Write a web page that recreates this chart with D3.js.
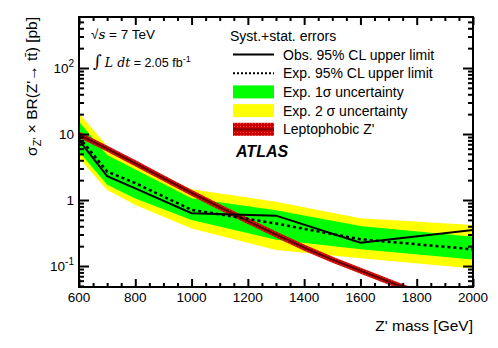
<!DOCTYPE html>
<html>
<head>
<meta charset="utf-8">
<script src="https://cdn.jsdelivr.net/npm/d3@7"></script>
<style>
  body { margin: 0; background: #fff; }
  text { font-family: "Liberation Sans", Arial, sans-serif; }
</style>
</head>
<body>
<div id="chart"></div>
<script>
// mass points of the limit
const masses = [600, 700, 800, 1000, 1300, 1600, 2000];
const observed = [8.1, 2.3, 1.5, 0.63, 0.58, 0.225, 0.35];
const expected = [9.0, 2.7, 1.8, 0.71, 0.44, 0.254, 0.179];
const exp1Up = [15.3, 4.8, 2.9, 1.06, 0.70, 0.404, 0.278];
const exp1Down = [5.4, 1.7, 1.05, 0.50, 0.25, 0.179, 0.126];
const exp2Up = [20.6, 6.6, 3.6, 1.45, 0.94, 0.527, 0.42];
const exp2Down = [4.3, 1.42, 0.84, 0.37, 0.175, 0.131, 0.092];

// leptophobic Z' cross section
const zpMass = [600, 700, 800, 900, 1000, 1100, 1200, 1300, 1400, 1500, 1600, 1700, 1800];
const zpXsec = [9.8, 6.0, 3.6, 2.15, 1.28, 0.78, 0.48, 0.30, 0.19, 0.125, 0.085, 0.058, 0.04];

const xMajor = [600, 800, 1000, 1200, 1400, 1600, 1800, 2000];
const yMajor = [0.1, 1, 10, 100];
const yLabels = [["10", "-1"], ["1", ""], ["10", ""], ["10", "2"]];

const W = 498, H = 348;
const pLeft = 79, pRight = 473, pTop = 17, pBottom = 287;

const svg = d3.select("#chart").append("svg")
  .attr("width", W).attr("height", H);

const x = d3.scaleLinear().domain([600, 2000]).range([pLeft, pRight]);
const y = d3.scaleLog().domain([Math.pow(10, -1.318), Math.pow(10, 2.773)]).range([pBottom, pTop]);

const defs = svg.append("defs");
defs.append("clipPath").attr("id", "clip")
  .append("rect").attr("x", pLeft).attr("y", pTop)
  .attr("width", pRight - pLeft).attr("height", pBottom - pTop);

const pat = defs.append("pattern")
  .attr("id", "hatch").attr("patternUnits", "userSpaceOnUse")
  .attr("width", 3).attr("height", 3);
pat.append("rect").attr("width", 3).attr("height", 3).attr("fill", "#cc0000");
pat.append("rect").attr("width", 1).attr("height", 1).attr("fill", "#ee5050");

const plot = svg.append("g").attr("clip-path", "url(#clip)");

const band = (up, down) => d3.area()
  .x((d, i) => x(masses[i]))
  .y0((d, i) => y(down[i]))
  .y1((d, i) => y(up[i]));

plot.append("path").datum(masses)
  .attr("d", band(exp2Up, exp2Down)).attr("fill", "#ffff00");
plot.append("path").datum(masses)
  .attr("d", band(exp1Up, exp1Down)).attr("fill", "#00ff00");

const line = vals => d3.line()
  .x((d, i) => x(masses[i]))
  .y((d, i) => y(vals[i]));

// leptophobic Z'
const zpLine = d3.line()
  .x((d, i) => x(zpMass[i]))
  .y((d, i) => y(zpXsec[i]));
plot.append("path").datum(zpMass).attr("d", zpLine)
  .attr("fill", "none").attr("stroke", "#cc0000").attr("stroke-width", 5.5);
plot.append("path").datum(zpMass).attr("d", zpLine)
  .attr("fill", "none").attr("stroke", "#ee5050").attr("stroke-width", 5.5)
  .attr("stroke-dasharray", "1,2").attr("opacity", 0.5);
plot.append("path").datum(zpMass).attr("d", zpLine)
  .attr("fill", "none").attr("stroke", "#5a0000").attr("stroke-width", 2);

plot.append("path").datum(masses).attr("d", line(expected))
  .attr("fill", "none").attr("stroke", "#000").attr("stroke-width", 2.5)
  .attr("stroke-dasharray", "3,3");
plot.append("path").datum(masses).attr("d", line(observed))
  .attr("fill", "none").attr("stroke", "#000").attr("stroke-width", 2);

// axes: ticks on all four sides, pointing inward
const xMinor = d3.range(600, 2001, 50).filter(v => v % 200 != 0);
const yMinor = [];
[0.01, 0.1, 1, 10, 100].forEach(dec => {
  for (let k = 2; k <= 9; k++) {
    const v = dec * k;
    if (v >= y.domain()[0] && v <= y.domain()[1]) yMinor.push(v);
  }
});

function drawAxis(axis, pos, values, size) {
  svg.append("g").attr("transform", pos)
    .call(axis.tickValues(values).tickSize(size).tickFormat(""))
    .call(g => g.select(".domain").remove())
    .call(g => g.selectAll("line").attr("stroke-width", 2));
}
drawAxis(d3.axisBottom(x), `translate(0,${pBottom})`, xMajor, -8);
drawAxis(d3.axisBottom(x), `translate(0,${pBottom})`, xMinor, -4);
drawAxis(d3.axisTop(x), `translate(0,${pTop})`, xMajor, -8);
drawAxis(d3.axisTop(x), `translate(0,${pTop})`, xMinor, -4);
drawAxis(d3.axisLeft(y), `translate(${pLeft},0)`, yMajor, -10);
drawAxis(d3.axisLeft(y), `translate(${pLeft},0)`, yMinor, -5);
drawAxis(d3.axisRight(y), `translate(${pRight},0)`, yMajor, -10);
drawAxis(d3.axisRight(y), `translate(${pRight},0)`, yMinor, -5);

svg.append("rect").attr("x", pLeft).attr("y", pTop)
  .attr("width", pRight - pLeft).attr("height", pBottom - pTop)
  .attr("fill", "none").attr("stroke", "#000").attr("stroke-width", 2);

// tick labels
svg.append("g").selectAll("text").data(xMajor).join("text")
  .attr("x", d => x(d)).attr("y", 302)
  .attr("text-anchor", "middle").attr("font-size", 13.5)
  .text(d => d);

const yl = svg.append("g").selectAll("text").data(yMajor).join("text")
  .attr("x", 74).attr("y", d => y(d) + 5)
  .attr("text-anchor", "end").attr("font-size", 13.5);
yl.append("tspan").text((d, i) => yLabels[i][0]);
yl.append("tspan").attr("dy", -6).attr("font-size", 10)
  .text((d, i) => yLabels[i][1]);

// axis titles
svg.append("text").attr("x", pRight).attr("y", 331)
  .attr("text-anchor", "end").attr("font-size", 15.5)
  .text("Z' mass [GeV]");

const yt = svg.append("text")
  .attr("transform", `translate(37,${pTop}) rotate(-90)`)
  .attr("text-anchor", "end").attr("font-size", 15.5);
yt.append("tspan").text("σ");
yt.append("tspan").attr("font-size", 11).attr("dy", 4).text("Z'");
yt.append("tspan").attr("dy", -4).text(" × BR(Z'→ tt\u0304) [pb]");

// top left labels
const sq = svg.append("text").attr("x", 91).attr("y", 39).attr("font-size", 13.5);
sq.append("tspan").text("√");
sq.append("tspan").attr("font-family", "DejaVu Serif").attr("font-style", "italic")
  .text("s");
sq.append("tspan").text(" = 7 TeV");

const lum = svg.append("text").attr("x", 93).attr("y", 67).attr("font-size", 12.5);
lum.append("tspan").attr("font-family", "DejaVu Serif").attr("font-size", 17).text("∫");
lum.append("tspan").attr("font-family", "DejaVu Serif").attr("font-style", "italic")
  .attr("dx", 3).text("L dt");
lum.append("tspan").text(" = 2.05 fb");
lum.append("tspan").attr("dy", -5).attr("font-size", 9).text("-1");

// legend
const legendNames = ["Obs. 95% CL upper limit", "Exp. 95% CL upper limit",
  "Exp. 1σ uncertainty", "Exp. 2 σ uncertainty", "Leptophobic Z'"];
svg.append("text").attr("x", 230).attr("y", 41).attr("font-size", 14)
  .text("Syst.+stat. errors");

const lg = svg.append("g");
legendNames.forEach((name, i) => {
  const cy = 54.5 + i * 18.7;
  const x0 = 233, x1 = 274;
  if (i == 0) {
    lg.append("line").attr("x1", x0).attr("x2", x1).attr("y1", cy).attr("y2", cy)
      .attr("stroke", "#000").attr("stroke-width", 2);
  } else if (i == 1) {
    lg.append("line").attr("x1", x0).attr("x2", x1).attr("y1", cy).attr("y2", cy)
      .attr("stroke", "#000").attr("stroke-width", 2).attr("stroke-dasharray", "2,2");
  } else if (i == 2 || i == 3) {
    lg.append("rect").attr("x", x0).attr("y", cy - 6.5).attr("width", x1 - x0).attr("height", 13)
      .attr("fill", i == 2 ? "#00ff00" : "#ffff00");
  } else {
    lg.append("rect").attr("x", x0).attr("y", cy - 6.5).attr("width", x1 - x0).attr("height", 13)
      .attr("fill", "url(#hatch)");
    lg.append("line").attr("x1", x0).attr("x2", x1).attr("y1", cy).attr("y2", cy)
      .attr("stroke", "#8a0000").attr("stroke-width", 2);
  }
  lg.append("text").attr("x", 283).attr("y", cy + 5).attr("font-size", 14).text(name);
});

svg.append("text").attr("x", 236).attr("y", 157)
  .attr("font-size", 16).attr("font-weight", "bold").attr("font-style", "italic")
  .text("ATLAS");
</script>
</body>
</html>
